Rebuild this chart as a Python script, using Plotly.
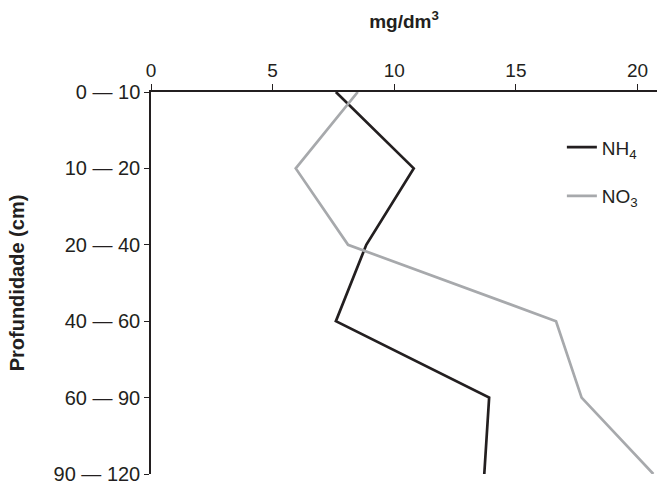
import plotly.graph_objects as go

depths = ["0 — 10", "10 — 20", "20 — 40", "40 — 60", "60 — 90", "90 — 120"]
nh4 = [7.6, 10.8, 8.85, 7.6, 13.9, 13.7]
no3 = [8.5, 5.95, 8.1, 16.65, 17.7, 20.65]
x_ticks = [0, 5, 10, 15, 20]

ypos = list(range(len(depths)))
FONT = "Liberation Sans, Arial, sans-serif"
INK = "#231f20"

fig = go.Figure()
fig.add_trace(go.Scatter(x=nh4, y=ypos, mode="lines", name="NH<sub>4</sub>",
                         line=dict(color=INK, width=2.7), legendgroup="a"))
fig.add_trace(go.Scatter(x=no3, y=ypos, mode="lines", name="NO<sub>3</sub>",
                         line=dict(color="#a7a9ac", width=2.7), legendgroup="b"))

fig.update_layout(
    width=659, height=489,
    margin=dict(l=151, r=2, t=92, b=15),
    paper_bgcolor="white", plot_bgcolor="white",
    font=dict(family=FONT, size=19, color=INK),
    xaxis=dict(side="top", range=[0, 20.8], tickvals=x_ticks,
               showgrid=False, zeroline=False, showline=True, linecolor=INK, linewidth=1.5,
               ticks="outside", ticklen=6, tickcolor=INK,
               title=dict(text="<b>mg/dm<sup>3</sup></b>", font=dict(size=19), standoff=26)),
    yaxis=dict(range=[5, 0], tickvals=ypos, ticktext=depths, tickfont=dict(size=20),
               showgrid=False, zeroline=False, showline=True, linecolor=INK, linewidth=1.5,
               ticks="outside", ticklen=5, tickcolor=INK,
               title=dict(text="<b>Profundidade (cm)</b>", font=dict(size=20), standoff=24)),
    showlegend=True,
    legend=dict(x=0.812, y=0.905, xanchor="left", yanchor="top", tracegroupgap=21,
                font=dict(size=19), bgcolor="rgba(0,0,0,0)"),
)

fig.write_html("out.html", config={"displayModeBar": False},
               post_script="document.body.style.margin='0';document.body.style.padding='0';")
